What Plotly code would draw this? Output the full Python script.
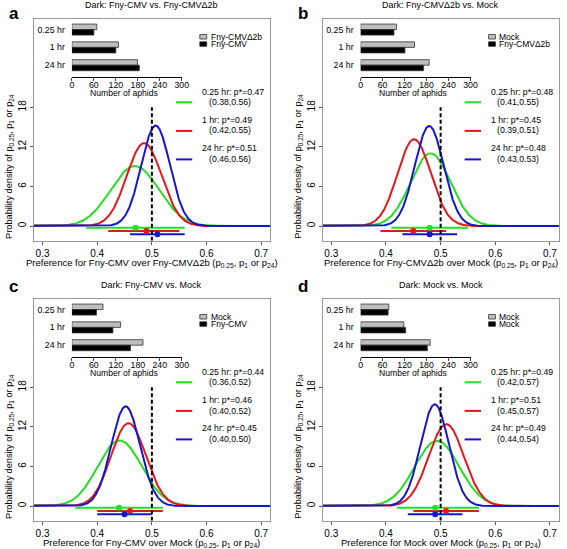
import math
import numpy as np
import plotly.graph_objects as go

W, H = 567, 549
FONT = "Liberation Sans, Arial, sans-serif"

# ---------------- data ----------------
times = ["0.25 hr", "1 hr", "24 hr"]
letters = ["a", "b", "c", "d"]
titles = ["Dark: Fny-CMV vs. Fny-CMVΔ2b", "Dark: Fny-CMVΔ2b vs. Mock",
          "Dark: Fny-CMV vs. Mock", "Dark: Mock vs. Mock"]
first_names = ["Fny-CMV", "Fny-CMVΔ2b", "Fny-CMV", "Mock"]      # black bars
second_names = ["Fny-CMVΔ2b", "Mock", "Mock", "Mock"]            # gray bars

# number of aphids (gray = second treatment, black = first treatment)
gray_a = [68, 127, 179]
black_a = [60, 120, 184]
gray_b = [98, 147, 187]
black_b = [91, 121, 172]
gray_c = [85, 133, 194]
black_c = [67, 112, 160]
gray_d = [77, 118, 190]
black_d = [75, 123, 182]

# posterior mode and 95% interval (as printed)
pstar_a = [0.47, 0.49, 0.51]
lo_a = [0.38, 0.42, 0.46]
hi_a = [0.56, 0.55, 0.56]
pstar_b = [0.48, 0.45, 0.48]
lo_b = [0.41, 0.39, 0.43]
hi_b = [0.55, 0.51, 0.53]
pstar_c = [0.44, 0.46, 0.45]
lo_c = [0.36, 0.40, 0.40]
hi_c = [0.52, 0.52, 0.50]
pstar_d = [0.49, 0.51, 0.49]
lo_d = [0.42, 0.45, 0.44]
hi_d = [0.57, 0.57, 0.54]

no_preference = 0.5
x_ticks = [0.3, 0.4, 0.5, 0.6, 0.7]
y_ticks = [0, 6, 12, 18]
bar_ticks = [0, 60, 120, 180, 240, 300]

panels = [
    (gray_a, black_a, pstar_a, lo_a, hi_a),
    (gray_b, black_b, pstar_b, lo_b, hi_b),
    (gray_c, black_c, pstar_c, lo_c, hi_c),
    (gray_d, black_d, pstar_d, lo_d, hi_d),
]

# ---------------- style ----------------
COLS = ["#22E022", "#E8161B", "#1616D0"]
CI_OFF = [-0.25, -0.75, -1.25]
XR = [0.284, 0.716]
YR = [-2.23, 31.4]
DX = [0, 293.4, 0, 293.4]
DY = [0, 0, 280, 280]


def beta_pdf(x, a, b):
    lb = math.lgamma(a) + math.lgamma(b) - math.lgamma(a + b)
    return np.exp((a - 1) * np.log(x) + (b - 1) * np.log1p(-x) - lb)


fig = go.Figure()
layout = dict(width=W, height=H, margin=dict(l=0, r=0, t=0, b=0),
              paper_bgcolor="white", plot_bgcolor="white", showlegend=False,
              font=dict(family=FONT, color="black"))
shapes = []
annotations = []


def ann(text, x, y, size, xanchor="center", yanchor="middle", angle=0):
    annotations.append(dict(text=text, x=x / W, y=1 - y / H, xref="paper", yref="paper",
                            showarrow=False, xanchor=xanchor, yanchor=yanchor,
                            textangle=angle, font=dict(size=size, family=FONT, color="black")))


xgrid = np.linspace(0.2, 0.8, 1201)

for i, (gray, black, pstar, lo, hi) in enumerate(panels):
    dx, dy = DX[i], DY[i]
    m = i + 1
    s = i + 5
    mx = "x" if m == 1 else f"x{m}"
    my = "y" if m == 1 else f"y{m}"
    sx, sy = f"x{s}", f"y{s}"
    mxa = "xaxis" if m == 1 else f"xaxis{m}"
    mya = "yaxis" if m == 1 else f"yaxis{m}"

    # main box
    bx0, bx1 = 32.3 + dx, 272.3 + dx
    by0, by1 = 19 + dy, 240.7 + dy
    layout[mxa] = dict(domain=[bx0 / W, bx1 / W], range=XR, anchor=my,
                       tickvals=x_ticks, ticktext=[f"{v:.1f}" for v in x_ticks],
                       ticks="outside", ticklen=3, tickcolor="#555",
                       showline=True, mirror=True, linecolor="#999", linewidth=1,
                       showgrid=False, zeroline=False, tickfont=dict(size=10))
    layout[mya] = dict(domain=[1 - by1 / H, 1 - by0 / H], range=YR, anchor=mx,
                       tickvals=y_ticks, tickangle=-90,
                       ticks="outside", ticklen=3, tickcolor="#555",
                       showline=True, mirror=True, linecolor="#999", linewidth=1,
                       showgrid=False, zeroline=False, tickfont=dict(size=10))

    # density curves
    for k in range(3):
        dens = beta_pdf(xgrid, black[k] + 1, gray[k] + 1)
        fig.add_trace(go.Scatter(x=xgrid, y=dens, mode="lines", xaxis=mx, yaxis=my,
                                 line=dict(color=COLS[k], width=2), hoverinfo="skip"))
    # dashed reference line
    shapes.append(dict(type="line", xref=mx, yref=my, x0=no_preference, x1=no_preference,
                       y0=YR[0], y1=18, line=dict(color="black", width=2, dash="4px,2.5px")))
    # intervals and modes
    for k in range(3):
        fig.add_trace(go.Scatter(x=[lo[k], hi[k]], y=[CI_OFF[k]] * 2, mode="lines",
                                 xaxis=mx, yaxis=my, line=dict(color=COLS[k], width=2),
                                 hoverinfo="skip"))
    for k in range(3):
        fig.add_trace(go.Scatter(x=[pstar[k]], y=[CI_OFF[k]], mode="markers",
                                 xaxis=mx, yaxis=my, marker=dict(color=COLS[k], size=6),
                                 hoverinfo="skip"))

    # inset bar chart
    ix0, ix1 = 71 + dx, 182.7 + dx
    iy0, iy1 = 20.5 + dy, 77.3 + dy
    layout[f"xaxis{s}"] = dict(domain=[ix0 / W, ix1 / W], range=[0, 300], anchor=sy,
                               tickvals=bar_ticks, ticks="outside", ticklen=2.5,
                               showline=True, linecolor="black", linewidth=1,
                               ticklabelstandoff=-3,
                               showgrid=False, zeroline=False, tickfont=dict(size=8.8))
    layout[f"yaxis{s}"] = dict(domain=[1 - iy1 / H, 1 - iy0 / H], range=[2.68, -0.51],
                               anchor=sx, tickvals=[0, 1, 2], ticktext=times,
                               showline=False, ticks="", showgrid=False, zeroline=False,
                               ticklabelstandoff=6, tickfont=dict(size=8.8))
    cat_pos = list(range(len(times)))
    fig.add_trace(go.Bar(x=gray, y=cat_pos, orientation="h", xaxis=sx, yaxis=sy,
                         marker=dict(color="#BEBEBE", line=dict(color="#333", width=0.8)),
                         hoverinfo="skip"))
    fig.add_trace(go.Bar(x=black, y=cat_pos, orientation="h", xaxis=sx, yaxis=sy,
                         marker=dict(color="black", line=dict(color="#333", width=0.8)),
                         hoverinfo="skip"))
    ann("Number of aphids", 124 + dx, 93.2 + dy, 8.6)

    # inset legend
    shapes.append(dict(type="rect", xref="paper", yref="paper",
                       x0=(201 + dx) / W, x1=(208 + dx) / W,
                       y0=1 - (39 + dy) / H, y1=1 - (34.5 + dy) / H,
                       fillcolor="#BEBEBE", line=dict(color="#333", width=0.8)))
    shapes.append(dict(type="rect", xref="paper", yref="paper",
                       x0=(201 + dx) / W, x1=(208 + dx) / W,
                       y0=1 - (46.3 + dy) / H, y1=1 - (41.8 + dy) / H,
                       fillcolor="black", line=dict(color="#333", width=0.8)))
    ann(second_names[i], 210 + dx, 36.6 + dy, 8.5, xanchor="left")
    ann(first_names[i], 210 + dx, 44.2 + dy, 8.5, xanchor="left")

    # main legend
    l1y = [91.7, 119.5, 148.3]
    l2y = [101.9, 130.5, 159]
    for k in range(3):
        shapes.append(dict(type="line", xref="paper", yref="paper",
                           x0=(176.7 + dx) / W, x1=(193.3 + dx) / W,
                           y0=1 - (l2y[k] + 0.4 + dy) / H, y1=1 - (l2y[k] + 0.4 + dy) / H,
                           line=dict(color=COLS[k], width=2)))
        ann(f"{times[k]}: p*={pstar[k]:.2f}", 201.5 + dx, l1y[k] + dy, 8.7, xanchor="left")
        ann(f"({lo[k]:.2f},{hi[k]:.2f})", 208 + dx, l2y[k] + dy, 8.7, xanchor="left")

    # titles
    ann(titles[i], 152.3 + dx, 4.9 + dy, 9)
    ann(f"<b>{letters[i]}</b>", 12 + dx, (13.7 if i < 2 else 6.8) + dy, 17)
    ann(f"Preference for {first_names[i]} over {second_names[i]} "
        f"(p<sub>0.25</sub>, p<sub>1</sub> or p<sub>24</sub>)", 152.3 + dx, 263 + dy, 9.5)
    ann("Probability density of p<sub>0.25</sub>, p<sub>1</sub> or p<sub>24</sub>",
        7 + dx, 166 + dy, 9.2, angle=-90)

layout["shapes"] = shapes
layout["annotations"] = annotations
layout["barmode"] = "group"
layout["bargap"] = 0.38
layout["bargroupgap"] = 0
fig.update_layout(**layout)
fig.write_html("out.html", config={"displayModeBar": False},
               post_script="document.body.style.margin='0';document.body.style.overflow='hidden';")
